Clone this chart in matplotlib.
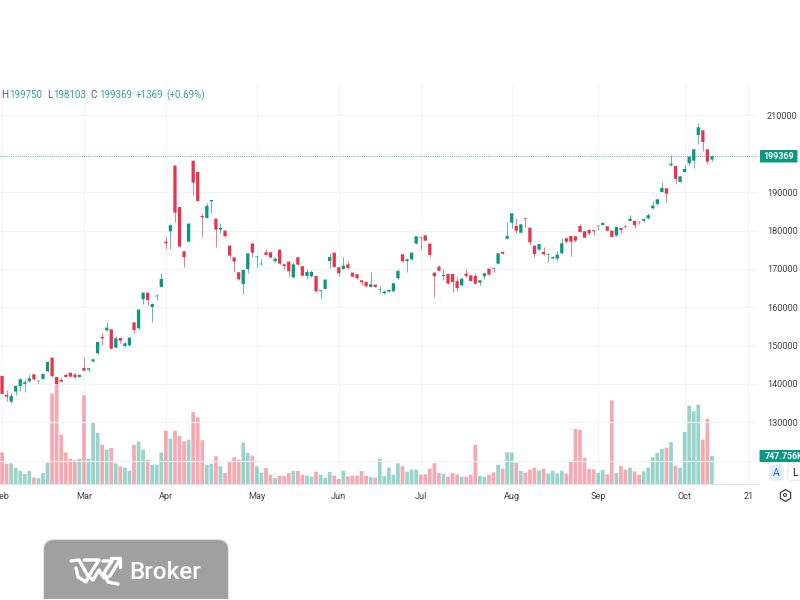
import matplotlib
matplotlib.use('Agg')
import matplotlib.pyplot as plt
from matplotlib.patches import FancyBboxPatch, Rectangle, Circle

plt.rcParams['font.family'] = ['Roboto', 'DejaVu Sans']

opens = [142800, 142073, 137120, 135381, 137990, 139466, 139987, 140683, 142507, 140683,
         141291, 143289, 146852, 141812, 141030, 142334, 142942, 142420, 141812, 144158,
         143724, 145896, 147982, 152240, 153978, 154239, 149459, 151979, 149894, 150068,
         156064, 154500, 162060, 163798, 160061, 162842, 165275, 177106, 179799, 196919,
         186143, 174585, 177106, 198222, 195268, 183797, 183275, 187620, 183102, 180234,
         179973, 176063, 173021, 169111, 166069, 169980, 176584, 173021, 171196, 174325,
         174325, 171978, 175020, 171196, 171891, 167807, 173021, 170675, 168155, 168068,
         168155, 164157, 164766, 172065, 174238, 170414, 169980, 171196, 169024, 168589,
         167025, 166591, 165287, 165895, 164592, 163636, 164070, 164157, 167546, 173798,
         172060, 172495, 176579, 178230, 178752, 176579, 169019, 170583, 168150, 168671,
         168671, 166759, 165717, 168758, 168323, 168150, 166412, 168063, 170062, 170148,
         171365, 174407, 177883, 182054, 181185, 179447, 183184, 180750, 176058, 175015,
         174407, 173624, 172755, 172669, 174059, 177970, 178578, 178491, 181185, 179794,
         180142, 180063, 181106, 181454, 181106, 179976, 178673, 180671, 181193, 182496,
         182496, 182322, 182496, 183192, 185799, 186928, 190057, 191012, 197009, 196835,
         192664, 195271, 197530, 198225, 204917, 206133, 201180, 198500]
highs = [148000, 142073, 138423, 137554, 139726, 141465, 141204, 142594, 142507, 140856,
         142768, 145896, 146852, 141812, 141899, 142942, 142942, 142942, 142594, 146852,
         144245, 146505, 151024, 153370, 156151, 154239, 152501, 151979, 151024, 152153,
         156151, 159540, 163972, 163798, 161017, 163363, 168925, 178409, 181711, 197093,
         186230, 174585, 182059, 198222, 195355, 184492, 187099, 187968, 183102, 182059,
         180147, 176150, 173195, 169198, 169893, 174151, 176932, 173630, 172587, 175107,
         174412, 173021, 175020, 171196, 171891, 171891, 173021, 170675, 170066, 169632,
         168155, 164418, 167286, 174064, 174238, 170414, 173021, 172152, 169024, 168676,
         167025, 166938, 169198, 165895, 165548, 164418, 164679, 166330, 169893, 173798,
         172755, 174320, 178578, 178230, 178839, 176666, 169106, 171104, 170062, 168671,
         168671, 167976, 167541, 169888, 168323, 168845, 167107, 168932, 170062, 170148,
         174146, 174754, 182141, 184487, 183184, 181706, 183184, 180750, 176058, 176579,
         175623, 173798, 173190, 174580, 178056, 178404, 178578, 178491, 181706, 179794,
         180316, 180063, 181280, 182149, 181106, 180063, 181019, 180671, 181367, 183974,
         182496, 182322, 183192, 184669, 187623, 188232, 192664, 191012, 199702, 196835,
         194228, 197009, 199355, 201267, 207958, 206133, 201180, 199750]
lows = [142000, 137380, 135642, 135121, 137120, 138250, 137990, 140422, 141030, 140161,
        141204, 143203, 141899, 139813, 140422, 141725, 141812, 141638, 141725, 143376,
        143116, 145810, 147895, 150068, 153891, 149025, 149372, 150763, 149546, 149981,
        153196, 154413, 160930, 160669, 156151, 161886, 165188, 175194, 175281, 182320,
        175628, 170414, 177019, 189272, 187620, 178235, 183188, 184666, 175802, 179452,
        178409, 172847, 169198, 167112, 163375, 169024, 173195, 170588, 171109, 173543,
        172760, 171718, 171283, 170066, 168155, 167720, 171022, 168155, 167286, 167981,
        164070, 162506, 164679, 170153, 170414, 168155, 169893, 169980, 167894, 167459,
        165895, 165374, 165200, 165200, 163810, 163549, 163984, 164070, 167459, 171887,
        169280, 172408, 176492, 175189, 177274, 173190, 162762, 169453, 167107, 166064,
        164066, 164326, 165630, 167802, 166759, 166064, 165717, 167281, 168410, 169193,
        171278, 173885, 177796, 180663, 179447, 179360, 181011, 176232, 173190, 174928,
        173711, 171887, 172669, 172060, 173972, 176666, 173451, 177014, 179534, 178056,
        178839, 178933, 180150, 181367, 179889, 178238, 178586, 179455, 180584, 182409,
        180758, 181714, 182322, 183105, 185538, 186581, 189970, 187363, 196922, 192490,
        192577, 195184, 197009, 196227, 202657, 200832, 197443, 198103]
closes = [142100, 137380, 136685, 136859, 139466, 141204, 140422, 141465, 141204, 140856,
          142594, 145723, 142073, 139987, 140595, 141812, 141899, 141725, 142334, 143463,
          144071, 146418, 150937, 151893, 154673, 149199, 151893, 151284, 150589, 152066,
          154065, 159366, 163798, 161886, 160843, 163016, 167361, 176671, 181364, 184666,
          175802, 173021, 181798, 192487, 187707, 183449, 186404, 187968, 180234, 180668,
          178496, 173456, 171891, 167286, 169719, 174064, 174238, 173195, 171370, 173630,
          173021, 172674, 171370, 170762, 169371, 171196, 171109, 168242, 169198, 169198,
          164157, 164418, 167199, 173108, 170501, 168850, 170849, 170240, 167981, 167546,
          166504, 165461, 165982, 165287, 164766, 164070, 164505, 166243, 169458, 171973,
          172495, 174233, 178491, 178056, 177361, 173624, 168063, 169540, 168410, 166151,
          166586, 165021, 167455, 168150, 166846, 166151, 167020, 168845, 168497, 169975,
          174059, 173972, 178578, 184487, 179968, 181619, 183010, 176927, 173885, 176492,
          173798, 173798, 173103, 173711, 176666, 177101, 177101, 177361, 179621, 178143,
          179273, 179802, 181280, 181975, 179976, 178325, 180932, 180150, 181019, 183105,
          181367, 182149, 182931, 183974, 186494, 188145, 191099, 189622, 197443, 193446,
          194141, 196053, 199268, 201180, 206915, 203092, 198000, 199369]
volumes = [730, 836, 537, 546, 422, 343, 264, 343, 167, 150,
           290, 563, 2385, 2622, 1302, 836, 660, 625, 669, 2341,
           669, 1637, 1346, 1038, 906, 950, 546, 458, 431, 352,
           1030, 1118, 906, 642, 510, 510, 836, 1408, 1197, 1408,
           1267, 1126, 1170, 1901, 1760, 1153, 510, 537, 730, 466,
           290, 581, 704, 642, 1091, 818, 748, 466, 299, 422,
           246, 158, 220, 211, 290, 343, 343, 246, 220, 194,
           326, 246, 167, 317, 220, 132, 352, 202, 220, 220,
           343, 211, 185, 167, 669, 211, 431, 246, 546, 466,
           326, 378, 378, 246, 255, 405, 546, 290, 273, 194,
           290, 255, 194, 194, 246, 1030, 220, 194, 246, 308,
           510, 405, 836, 827, 563, 343, 299, 378, 431, 352,
           405, 273, 352, 282, 352, 273, 598, 1452, 1434, 686,
           396, 387, 299, 370, 255, 2209, 290, 475, 378, 431,
           334, 246, 334, 431, 704, 827, 924, 959, 1109, 484,
           431, 1373, 2068, 1918, 2094, 1170, 1716, 747.756]

month_ticks = [1, 19, 37, 57, 75, 93, 113, 132, 151, 165]
month_labels = ['Feb', 'Mar', 'Apr', 'May', 'Jun', 'Jul', 'Aug', 'Sep', 'Oct', '21']
price_ticks = [120000, 130000, 140000, 150000, 160000, 170000, 180000, 190000, 200000, 210000]
price_labels = ['', '130000', '140000', '150000', '160000', '170000', '180000', '190000', '', '210000']
last_price = 199369

UP = '#089981'
DOWN = '#e8344a'
TXT = '#3d414c'
GRID = '#f3f4f6'

fig = plt.figure(figsize=(8, 6), dpi=100, facecolor='white')
pane = [0, (600 - 484) / 600, 757 / 800, 400 / 600]

# volume sits behind the candles
ax_vol = fig.add_axes(pane)
ax = fig.add_axes(pane)
ax.patch.set_visible(False)

x = list(range(len(closes)))
colors = [UP if c >= o else DOWN for o, c in zip(opens, closes)]

vol_bars = ax_vol.bar(x, volumes, width=0.82, color=colors, alpha=0.42, linewidth=0)
for b in vol_bars:
    b.set_snap(False)
ax_vol.set_ylim(0, 10554)
ax_vol.set_yticks([])
ax_vol.set_xticks(month_ticks)
ax_vol.set_xticklabels([])
ax_vol.tick_params(length=0)
ax_vol.grid(axis='x', color=GRID, lw=0.8)
ax_vol.set_axisbelow(True)
for s in ax_vol.spines.values():
    s.set_visible(False)

ax.vlines(x, lows, highs, colors=colors, lw=0.65, alpha=0.7)
bodies = ax.bar(x, [abs(c - o) for o, c in zip(opens, closes)], bottom=[min(o, c) for o, c in zip(opens, closes)],
                width=0.72, color=colors, linewidth=0)
for b in bodies:
    b.set_snap(False)
ax.axhline(last_price, color=UP, lw=0.7, ls=(0, (1, 1.2)), alpha=0.7)

ax.set_xlim(0.55, 166.9)
ax_vol.set_xlim(0.55, 166.9)
ax.set_ylim(113893, 218215)
ax.yaxis.tick_right()
ax.set_yticks(price_ticks)
ax.set_yticklabels(price_labels, ha='left')
ax.set_xticks(month_ticks)
ax.set_xticklabels(month_labels)
ax.tick_params(axis='y', length=0, pad=7.2, labelsize=6.6, labelcolor=TXT)
ax.tick_params(axis='x', length=0, pad=5.6, labelsize=6.6, labelcolor=TXT)
ax.grid(axis='y', color=GRID, lw=0.8)
ax.set_axisbelow(True)
for name, s in ax.spines.items():
    s.set_visible(name == 'bottom')
ax.spines['bottom'].set_color('#e0e3eb')
ax.spines['bottom'].set_linewidth(0.9)

# pixel overlay for the header, tags, buttons and logo
ov = fig.add_axes([0, 0, 1, 1], zorder=5)
ov.set_xlim(0, 800)
ov.set_ylim(600, 0)
ov.axis('off')
ov.patch.set_visible(False)

header = [(1.5, 'H', TXT), (9.5, '199750', UP), (47.5, 'L', TXT), (53, '198103', UP),
          (90.5, 'C', TXT), (99, '199369', UP), (136, '+1369', UP), (166.5, '(+0.69%)', UP)]
for hx, s, col in header:
    ov.text(hx, 95.5, s, color=col, fontsize=7.1, va='center', ha='left', alpha=0.85)

ov.add_patch(FancyBboxPatch((760, 150), 37.5, 12.5, boxstyle='round,pad=0,rounding_size=1', fc=UP, ec='none'))
ov.text(778.7, 156.4, '199369', color='white', fontsize=6.4, fontweight='bold', ha='center', va='center')
ov.add_patch(FancyBboxPatch((759.5, 450), 60, 12, boxstyle='round,pad=0,rounding_size=1', fc=UP, ec='none'))
ov.text(765, 456.2, '747.756K', color='white', fontsize=6.4, fontweight='bold', ha='left', va='center')

ov.add_patch(FancyBboxPatch((769, 465), 15, 15.5, boxstyle='round,pad=0,rounding_size=3', fc='#e3effd', ec='none'))
ov.text(776.5, 473, 'A', color='#2962ff', fontsize=7.5, ha='center', va='center')
ov.add_patch(FancyBboxPatch((787.5, 465), 20, 15.5, boxstyle='round,pad=0,rounding_size=3', fc='white', ec='#e8eaee', lw=0.7))
ov.text(794.5, 473, 'L', color='#131722', fontsize=7.5, ha='center', va='center')

ov.plot([785], [495], marker='h', ms=8.5, mfc='none', mec='#3d414c', mew=0.9)
ov.add_patch(Circle((785, 495), 1.5, fc='none', ec='#3d414c', lw=0.8))

# logo card, runs off the bottom
ov.add_patch(FancyBboxPatch((44, 540), 184, 80, boxstyle='round,pad=0,rounding_size=10', fc='#a0a0a0', ec='#b4b4b4', lw=0.6))
ov.add_patch(Rectangle((40, 599.2), 195, 2, fc='white', ec='none'))
logo_paths = [
    [(71, 561), (79, 560), (88, 576), (93, 580), (99, 570), (104, 578), (110, 576), (119, 561)],
    [(84, 560), (99, 560), (90, 574), (86, 582), (78, 577), (76, 568)],
    [(103, 561), (112, 561), (104, 573), (108, 582), (118, 584)],
    [(111, 558), (120, 558), (120, 567)],
]
for path in logo_paths:
    ov.plot([p[0] for p in path], [p[1] for p in path], color='white', lw=2.4, solid_joinstyle='round', solid_capstyle='round')
ov.text(129, 572.5, 'Broker', color='white', fontsize=17.5, fontweight='medium', ha='left', va='center')

fig.savefig('out.png', dpi=100)
